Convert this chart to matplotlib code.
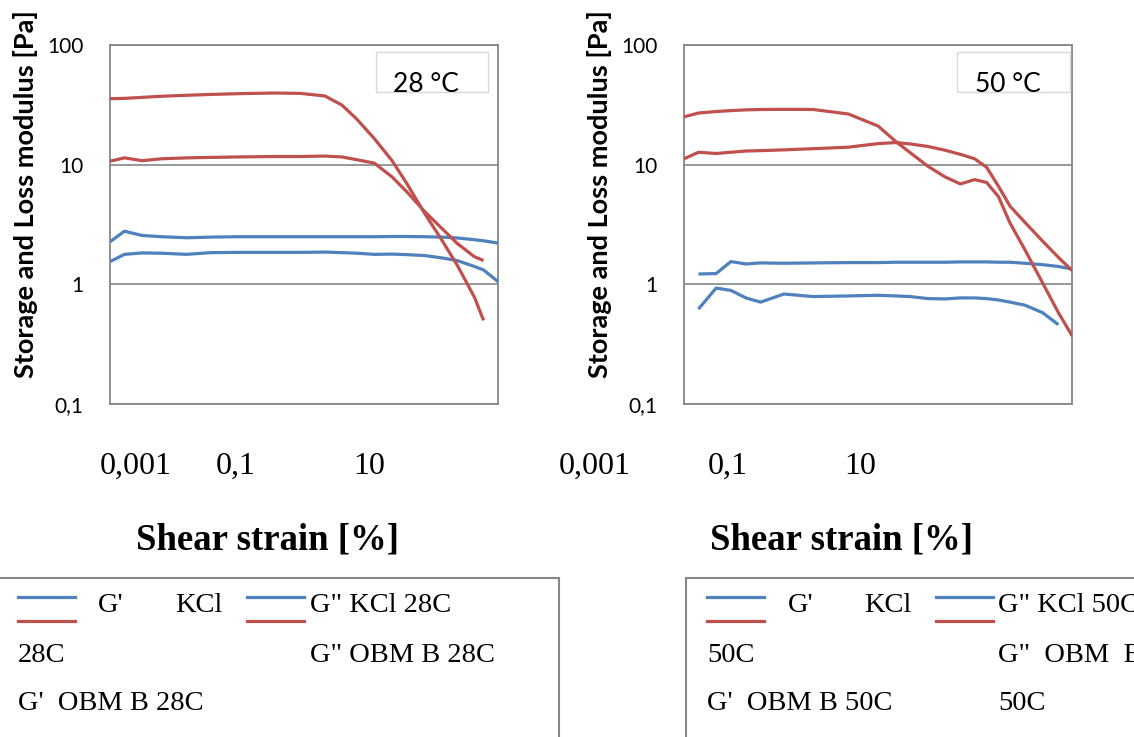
import matplotlib
matplotlib.use("Agg")
import matplotlib.pyplot as plt
from matplotlib.lines import Line2D
from matplotlib.patches import Rectangle

# strain [%] and moduli [Pa]
strain_28 = [0.0004, 0.0007, 0.0014, 0.003, 0.008, 0.02, 0.06, 0.25, 0.7, 1.8, 3.5,
             6.3, 12.5, 25, 45, 90, 180, 320, 630, 900, 1600]
gp_kcl_28 = [2.27, 2.78, 2.56, 2.50, 2.45, 2.48, 2.50, 2.50, 2.50, 2.50, 2.50,
             2.50, 2.50, 2.51, 2.51, 2.50, 2.48, 2.44, 2.36, 2.31, 2.21]
gpp_kcl_28 = [1.55, 1.78, 1.83, 1.82, 1.78, 1.84, 1.85, 1.85, 1.85, 1.86, 1.84,
              1.82, 1.78, 1.79, 1.77, 1.74, 1.66, 1.58, 1.41, 1.32, 1.05]
gp_obm_28 = [35.6, 35.8, 36.5, 37.3, 38.0, 38.6, 39.2, 39.7, 39.4, 37.5, 31.5,
             24.0, 16.5, 10.8, 6.9, 3.9, 2.3, 1.45, 0.78, 0.50]
gpp_obm_28 = [10.7, 11.4, 10.8, 11.2, 11.4, 11.5, 11.6, 11.7, 11.7, 11.8, 11.6,
              11.0, 10.3, 7.9, 5.9, 4.05, 2.9, 2.2, 1.70, 1.58]

strain_50 = [0.0004, 0.0007, 0.0014, 0.0025, 0.0045, 0.008, 0.02, 0.063, 0.25, 0.8,
             1.6, 2.8, 5.6, 11, 20, 35, 56, 89, 140, 250, 500, 930, 1600]
gp_kcl_50 = [1.22, 1.23, 1.55, 1.48, 1.51, 1.50, 1.51, 1.52, 1.52, 1.53, 1.53,
             1.53, 1.53, 1.54, 1.54, 1.54, 1.53, 1.53, 1.50, 1.46, 1.41, 1.34]
gpp_kcl_50 = [0.62, 0.93, 0.89, 0.77, 0.71, 0.83, 0.79, 0.80, 0.81, 0.80, 0.79,
              0.76, 0.755, 0.77, 0.77, 0.76, 0.74, 0.71, 0.67, 0.58, 0.46]
gp_obm_50 = [25.1, 27.0, 27.8, 28.3, 28.7, 28.9, 29.0, 28.9, 26.5, 21.0, 15.6,
             12.6, 9.7, 7.9, 6.9, 7.5, 7.1, 5.4, 3.25, 1.95, 1.03, 0.58, 0.37]
gpp_obm_50 = [11.2, 12.7, 12.4, 12.7, 13.0, 13.1, 13.3, 13.6, 14.0, 15.0, 15.3,
              14.9, 14.2, 13.2, 12.2, 11.2, 9.5, 6.6, 4.5, 3.3, 2.3, 1.68, 1.30]

y_ticks = [0.1, 1, 10, 100]
y_ticklabels = ["0,1", "1", "10", "100"]
x_ticklabels = ["0,001", "0,1", "10"]

BLUE = "#4f81bd"
RED = "#c0504d"
FRAME = "#868686"
SANS = "Lato"
SERIF = "Liberation Serif"

W, H = 1134, 737
fig = plt.figure(figsize=(W / 100, H / 100), dpi=100)


def fx(px):
    return px / W


def fy(py):
    return 1 - py / H


def panel(left_px, curves, temp, xlab_pos, box_x):
    ax = fig.add_axes([fx(left_px), fy(404), 388 / W, 359 / H])
    ax.set_xscale("log")
    ax.set_yscale("log")
    ax.set_xlim(10 ** -3.4, 10 ** 3.2)
    ax.set_ylim(0.1, 100)
    for x, y, c in curves:
        ax.plot(x, y, color=c, lw=2.3, solid_joinstyle="round",
                solid_capstyle="butt", zorder=3)
    ax.set_yticks(y_ticks)
    ax.set_yticklabels(y_ticklabels, fontsize=15, family=SANS)
    ax.yaxis.set_minor_locator(matplotlib.ticker.NullLocator())
    ax.xaxis.set_minor_locator(matplotlib.ticker.NullLocator())
    ax.set_xticks([])
    ax.tick_params(axis="y", length=0, pad=19)
    ax.grid(axis="y", color=FRAME, lw=1.2)
    ax.set_axisbelow(True)
    for s in ax.spines.values():
        s.set_color(FRAME)
        s.set_linewidth(1.3)
    ax.set_ylabel("Storage and Loss modulus [Pa]", fontsize=19.5,
                  fontweight="bold", family=SANS)
    ax.yaxis.label.set_va("center")
    ax.yaxis.set_label_coords(-0.218, 0.585)
    for pos, lab in zip(xlab_pos, x_ticklabels):
        ax.text(pos, -0.175, lab, transform=ax.transAxes, ha="center",
                va="center", fontsize=23, family=SERIF, clip_on=False)
    ax.text(0.405, -0.378, "Shear strain [%]", transform=ax.transAxes,
            ha="center", va="center", fontsize=26.5, fontweight="bold",
            family=SERIF, clip_on=False)
    ax.add_patch(Rectangle((box_x, 0.869), 0.29, 0.112, transform=ax.transAxes,
                           facecolor="white", edgecolor="#d9d9d9", lw=1,
                           zorder=4))
    ax.text(box_x + 0.13, 0.89, temp, transform=ax.transAxes, ha="center",
            va="center", fontsize=19, family=SANS, zorder=5)
    return ax


panel(110, [(strain_28, gp_kcl_28, BLUE), (strain_28, gpp_kcl_28, BLUE),
            (strain_28[:20], gp_obm_28, RED), (strain_28[:20], gpp_obm_28, RED)],
      "28 °C", [0.065, 0.323, 0.667], 0.685)

panel(684, [(strain_50[1:23], gp_kcl_50, BLUE), (strain_50[1:22], gpp_kcl_50, BLUE),
            (strain_50, gp_obm_50, RED), (strain_50, gpp_obm_50, RED)],
      "50 °C", [-0.229, 0.113, 0.454], 0.704)


def legend(x0, x1, line_x, texts):
    fig.add_artist(Rectangle((fx(x0), fy(760)), fx(x1 - x0), (760 - 578) / H,
                             transform=fig.transFigure, facecolor="none",
                             edgecolor=FRAME, lw=1.5))
    for lx in line_x:
        for py, c in ((597, BLUE), (621, RED)):
            fig.add_artist(Line2D([fx(lx), fx(lx + 57)], [fy(py), fy(py)],
                                  color=c, lw=2.3, transform=fig.transFigure))
    for px, py, s in texts:
        fig.text(fx(px), fy(py), s, ha="left", va="center", fontsize=20.5,
                 family=SERIF)


legend(-5, 559, [18, 247], [(98, 605, "G'"), (175, 605, "KCl"),
                            (310, 605, 'G" KCl 28C'), (18, 655, "28C"),
                            (310, 655, 'G" OBM B 28C'),
                            (18, 704, "G'  OBM B 28C")])
legend(686, 1145, [707, 936], [(788, 605, "G'"), (864, 605, "KCl"),
                               (998, 605, 'G" KCl 50C'), (707, 655, "50C"),
                               (998, 655, 'G"  OBM  B'),
                               (707, 704, "G'  OBM B 50C"), (998, 704, "50C")])

fig.savefig("out.png", dpi=100)
